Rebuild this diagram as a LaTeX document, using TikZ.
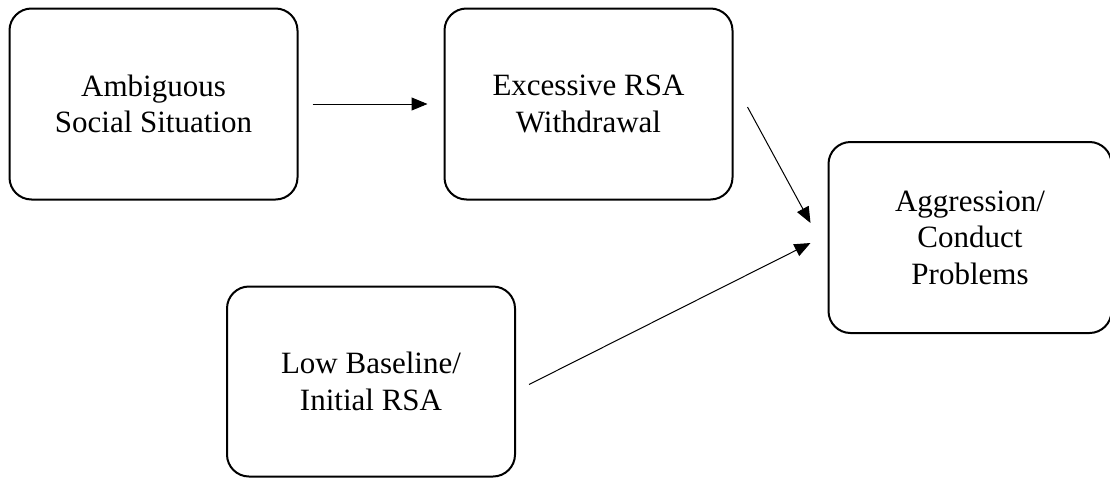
\documentclass[tikz,border=0pt]{standalone}
\usepackage{fontspec}
\setmainfont{Liberation Serif}
\usepackage{tikz}
\usetikzlibrary{arrows.meta, positioning}

\begin{document}
\begin{tikzpicture}[
    x=1pt, y=1pt,
    node distance=85pt and 145pt,
    box/.style={rectangle, draw=black, line width=2pt, rounded corners=22pt, align=center, minimum width=288pt, minimum height=191pt, inner sep=0pt, font=\fontsize{31}{36.5}\selectfont},
    arr/.style={-{Triangle[length=16pt, width=13pt]}, line width=1pt, color=black}
]

\useasboundingbox (0,0) rectangle (1110,-477);

% Top Layer
\node[box] (ambig) at (153.5,-104) {Ambiguous\\Social Situation};
\node[box, right=145pt of ambig] (withdraw) {Excessive RSA\\Withdrawal};

% Outcome and Baseline
\node[box, right=94pt of withdraw, yshift=-133.5pt, minimum width=283pt] (aggress) {Aggression/\\Conduct\\Problems};
\node[box, below=85pt of ambig, xshift=217.5pt, minimum height=190pt] (baseline) {Low Baseline/\\Initial RSA};

% Connections
\draw[arr] ([xshift=14pt]ambig.east) -- ([xshift=-16pt]withdraw.west);
\draw[arr] ([xshift=14pt, yshift=-3pt]withdraw.east) -- ([xshift=-17pt, yshift=14.5pt]aggress.west);
\draw[arr] ([xshift=13pt, yshift=-3pt]baseline.east) -- ([xshift=-17pt, yshift=-5.5pt]aggress.west);

\end{tikzpicture}
\end{document}
